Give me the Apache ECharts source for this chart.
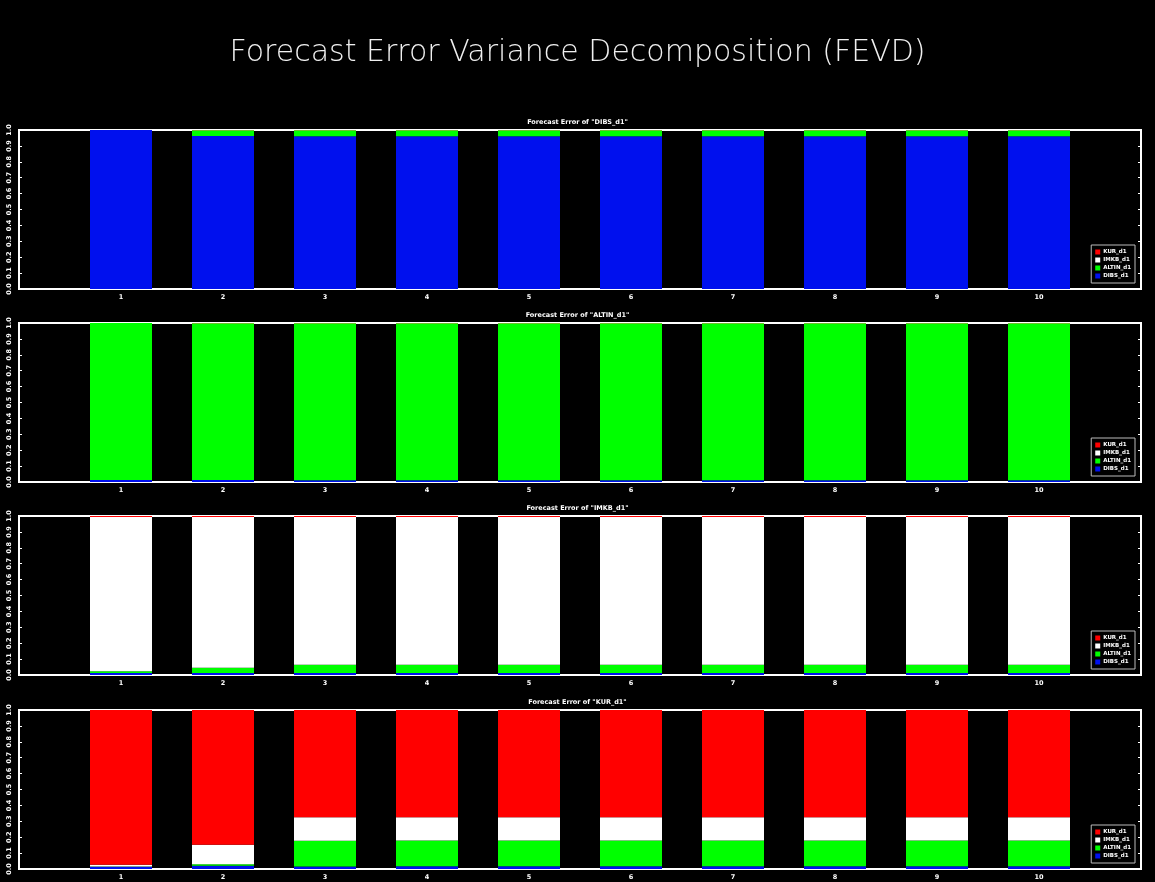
<!DOCTYPE html>
<html>
<head>
<meta charset="utf-8">
<script src="https://cdn.jsdelivr.net/npm/echarts@6/dist/echarts.min.js"></script>
<style>
  html, body { margin: 0; padding: 0; background: #000; }
  #chart { width: 1155px; height: 882px; }
</style>
</head>
<body>
<div id="chart"></div>
<script>
// Forecast horizons (blank slots pad the axis on both ends)
const periods = [1, 2, 3, 4, 5, 6, 7, 8, 9, 10];
const axisSlots = ['', '1', '2', '3', '4', '5', '6', '7', '8', '9', '10', ''];
const shockNames = ['DIBS_d1', 'ALTIN_d1', 'IMKB_d1', 'KUR_d1'];
const legendOrder = ['KUR_d1', 'IMKB_d1', 'ALTIN_d1', 'DIBS_d1'];
const shockColors = { DIBS_d1: '#0010ee', ALTIN_d1: '#00ff00', IMKB_d1: '#ffffff', KUR_d1: '#ff0000' };
const panelTitles = ['Forecast Error of "DIBS_d1"', 'Forecast Error of "ALTIN_d1"',
                     'Forecast Error of "IMKB_d1"', 'Forecast Error of "KUR_d1"'];

// Variance shares of DIBS_d1
const dibs_DIBS  = [1.000, 0.962, 0.961, 0.961, 0.961, 0.961, 0.961, 0.961, 0.961, 0.961];
const dibs_ALTIN = [0.000, 0.036, 0.037, 0.037, 0.037, 0.037, 0.037, 0.037, 0.037, 0.037];
const dibs_IMKB  = [0.000, 0.001, 0.001, 0.001, 0.001, 0.001, 0.001, 0.001, 0.001, 0.001];
const dibs_KUR   = [0.000, 0.001, 0.001, 0.001, 0.001, 0.001, 0.001, 0.001, 0.001, 0.001];

// Variance shares of ALTIN_d1
const altin_DIBS  = [0.012, 0.012, 0.011, 0.011, 0.011, 0.011, 0.011, 0.011, 0.011, 0.011];
const altin_ALTIN = [0.988, 0.986, 0.987, 0.987, 0.987, 0.987, 0.987, 0.987, 0.987, 0.987];
const altin_IMKB  = [0.000, 0.001, 0.001, 0.001, 0.001, 0.001, 0.001, 0.001, 0.001, 0.001];
const altin_KUR   = [0.000, 0.001, 0.001, 0.001, 0.001, 0.001, 0.001, 0.001, 0.001, 0.001];

// Variance shares of IMKB_d1
const imkb_DIBS  = [0.013, 0.012, 0.012, 0.012, 0.012, 0.012, 0.012, 0.012, 0.012, 0.012];
const imkb_ALTIN = [0.010, 0.033, 0.052, 0.052, 0.052, 0.052, 0.052, 0.052, 0.052, 0.052];
const imkb_IMKB  = [0.971, 0.949, 0.930, 0.930, 0.930, 0.930, 0.930, 0.930, 0.930, 0.930];
const imkb_KUR   = [0.006, 0.006, 0.006, 0.006, 0.006, 0.006, 0.006, 0.006, 0.006, 0.006];

// Variance shares of KUR_d1
const kur_DIBS  = [0.014, 0.020, 0.016, 0.017, 0.017, 0.017, 0.017, 0.017, 0.017, 0.017];
const kur_ALTIN = [0.002, 0.010, 0.162, 0.163, 0.163, 0.163, 0.163, 0.163, 0.163, 0.163];
const kur_IMKB  = [0.011, 0.122, 0.147, 0.146, 0.146, 0.146, 0.146, 0.146, 0.146, 0.146];
const kur_KUR   = [0.973, 0.848, 0.675, 0.674, 0.674, 0.674, 0.674, 0.674, 0.674, 0.674];

const panels = [
  { DIBS_d1: dibs_DIBS,  ALTIN_d1: dibs_ALTIN,  IMKB_d1: dibs_IMKB,  KUR_d1: dibs_KUR },
  { DIBS_d1: altin_DIBS, ALTIN_d1: altin_ALTIN, IMKB_d1: altin_IMKB, KUR_d1: altin_KUR },
  { DIBS_d1: imkb_DIBS,  ALTIN_d1: imkb_ALTIN,  IMKB_d1: imkb_IMKB,  KUR_d1: imkb_KUR },
  { DIBS_d1: kur_DIBS,   ALTIN_d1: kur_ALTIN,   IMKB_d1: kur_IMKB,   KUR_d1: kur_KUR }
];

const panelTop = [130, 323, 516, 710];
const panelHeight = 159;
const gridLeft = 19, gridRight = 14;

const grids = [], xAxes = [], yAxes = [], series = [], legends = [], titles = [];

titles.push({
  text: 'Forecast Error Variance Decomposition (FEVD)',
  left: 'center', top: 33,
  textStyle: { color: '#f0f0f0', fontSize: 30, fontWeight: 200, fontFamily: 'DejaVu Sans' }
});

panels.forEach((panel, i) => {
  grids.push({
    left: gridLeft, right: gridRight, top: panelTop[i], height: panelHeight,
    show: true, borderColor: '#ffffff', borderWidth: 2, backgroundColor: 'transparent'
  });
  titles.push({
    text: panelTitles[i], left: 'center', top: panelTop[i] - 16,
    textStyle: { color: '#ffffff', fontSize: 6.5, fontWeight: 'bold', fontFamily: 'DejaVu Sans' }
  });
  xAxes.push({
    type: 'category', gridIndex: i, data: axisSlots, boundaryGap: false,
    axisLine: { show: false }, axisTick: { show: false }, splitLine: { show: false },
    axisLabel: {
      color: '#ffffff', fontSize: 6.5, fontWeight: 'bold', fontFamily: 'DejaVu Sans',
      margin: 5, interval: 0
    }
  });
  yAxes.push({
    type: 'value', gridIndex: i, min: 0, max: 1, interval: 0.1, position: 'left',
    axisLine: { show: false }, splitLine: { show: false },
    axisTick: { show: true, inside: true, length: 3, lineStyle: { color: '#ffffff' } },
    axisLabel: {
      color: '#ffffff', fontSize: 6.5, fontWeight: 'bold', fontFamily: 'DejaVu Sans',
      rotate: 90, margin: 6, formatter: v => v.toFixed(1)
    }
  });
  yAxes.push({
    type: 'value', gridIndex: i, min: 0, max: 1, interval: 0.1, position: 'right',
    axisLine: { show: false }, splitLine: { show: false }, axisLabel: { show: false },
    axisTick: { show: true, inside: true, length: 3, lineStyle: { color: '#ffffff' } }
  });
  shockNames.forEach(name => {
    series.push({
      name: name, type: 'bar', stack: 'fevd' + i,
      xAxisIndex: i, yAxisIndex: i * 2, barWidth: 62,
      itemStyle: { color: shockColors[name] },
      emphasis: { disabled: true },
      data: [null].concat(periods.map((p, k) => panel[name][k]), [null])
    });
  });
  legends.push({
    data: legendOrder.map(n => ({ name: n, icon: 'rect' })),
    orient: 'vertical', right: 20, top: panelTop[i] + 115,
    itemWidth: 5, itemHeight: 5, itemGap: 2,
    padding: [4, 4, 4, 4],
    borderColor: '#bbbbbb', borderWidth: 1,
    selectedMode: false,
    textStyle: { color: '#ffffff', fontSize: 5.5, fontWeight: 'bold', fontFamily: 'DejaVu Sans', padding: [0, 0, 0, -2] }
  });
});

const chart = echarts.init(document.getElementById('chart'), null, { renderer: 'canvas' });
chart.setOption({
  backgroundColor: '#000000',
  animation: false,
  title: titles,
  grid: grids,
  xAxis: xAxes,
  yAxis: yAxes,
  legend: legends,
  series: series
});
</script>
</body>
</html>
